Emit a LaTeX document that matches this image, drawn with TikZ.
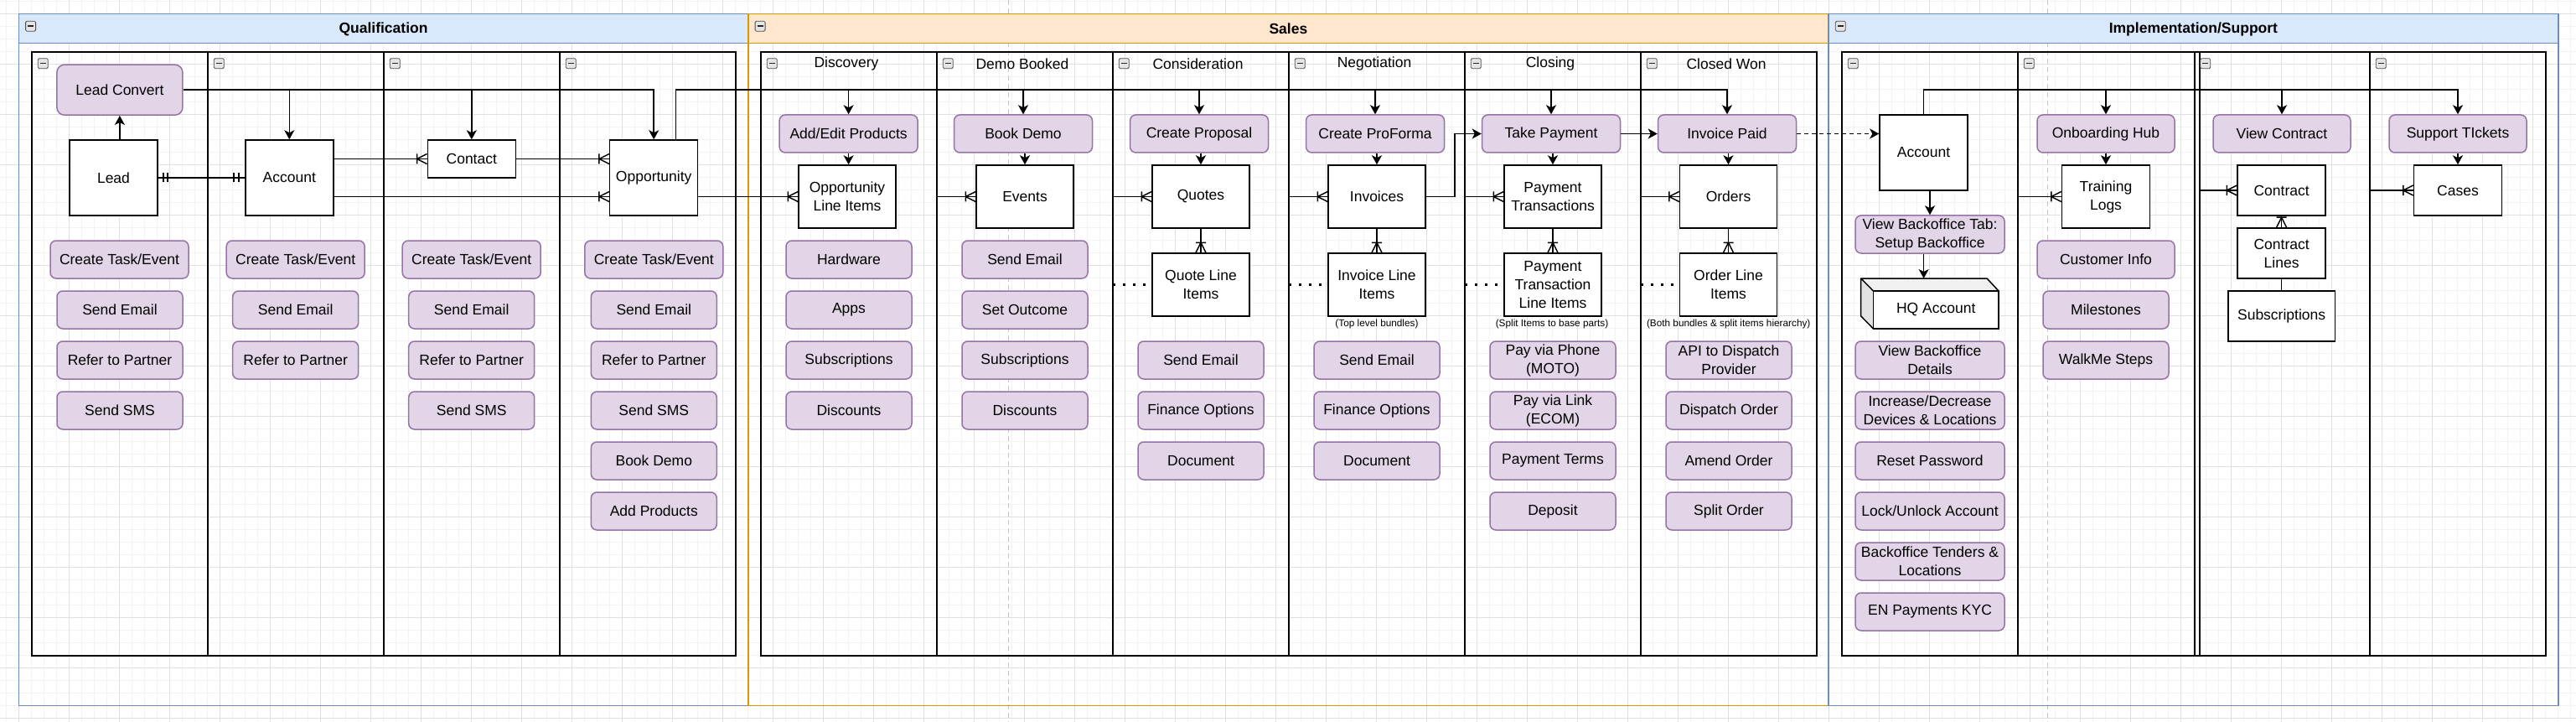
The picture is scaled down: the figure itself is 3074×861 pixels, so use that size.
\documentclass[tikz,border=0pt]{standalone}
\usepackage{fontspec}
\setmainfont{Liberation Sans}
\usetikzlibrary{arrows.meta}
\definecolor{purF}{HTML}{E1D5E7}
\definecolor{purD}{HTML}{9673A6}
\definecolor{bluF}{HTML}{DAE8FC}
\definecolor{bluD}{HTML}{6C8EBF}
\definecolor{orF}{HTML}{FFE6CC}
\definecolor{orD}{HTML}{D79B00}
\definecolor{gmin}{HTML}{F3F3F3}
\definecolor{gmaj}{HTML}{E0E0E0}
\definecolor{pgb}{HTML}{C8C8C8}
\tikzset{
  ln/.style={line width=1.5pt, black},
  arr/.style={ln, -{Stealth[length=11pt, width=12pt, inset=3pt]}},
  darr/.style={arr, dash pattern=on 4.5pt off 4.5pt},
  dotl/.style={line width=2.5pt, dash pattern=on 3pt off 9pt},
  act/.style={draw=purD, fill=purF, line width=1.5pt, rounded corners=7pt, minimum width=#1, minimum height=45pt, inner sep=0pt, align=center},
  act/.default=150pt,
  ent/.style 2 args={draw=black, fill=white, line width=1.5pt, minimum width=#1, minimum height=#2, inner sep=0pt, align=center},
  lanel/.style={draw=black, line width=2pt},
  lbl/.style={inner sep=0pt},
  ttl/.style={inner sep=0pt, font=\bfseries\fontsize{17.5}{22}\selectfont},
  smalltxt/.style={inner sep=0pt, font=\fontsize{11.8}{14}\selectfont},
  cfl/.pic={\draw[ln] (-12,-6) -- (-12,6) (0,-6) -- (-12,0) -- (0,6);},
  cfd/.pic={\draw[ln] (-6,-12) -- (6,-12) (-6,0) -- (0,-12) -- (6,0);},
  mbR/.pic={\draw[ln] (6,-5.5) -- (6,5.5) (11,-5.5) -- (11,5.5);},
  mbL/.pic={\draw[ln] (-7,-5.5) -- (-7,5.5) (-13,-5.5) -- (-13,5.5);},
  colp/.pic={\draw[draw=gray!60!black, fill=gray!20, line width=0.8pt, rounded corners=1.5pt] (-6,-6) rectangle (6,6); \draw[line width=1.6pt, black!85] (-3.5,0) -- (3.5,0);},
}
\begin{document}
\begin{tikzpicture}[x=1pt, y=-1pt, font=\fontsize{17.5}{22}\selectfont]
\useasboundingbox (0,0) rectangle (3074,861);
\fill[white] (0,0) rectangle (3074,861);
% grid
\foreach \k in {-1,...,204} {\draw[gmin, line width=0.8pt] ({22.3+15*\k},0) -- ({22.3+15*\k},861);}
\foreach \k in {-1,...,56} {\draw[gmin, line width=0.8pt] (0,{16.7+15*\k}) -- (3074,{16.7+15*\k});}
\foreach \k in {0,...,51} {\draw[gmaj, line width=1pt] ({22.3+60*\k},0) -- ({22.3+60*\k},861);}
\foreach \k in {0,...,14} {\draw[gmaj, line width=1pt] (0,{16.7+60*\k}) -- (3074,{16.7+60*\k});}
% page breaks
\draw[pgb, line width=1pt, dash pattern=on 6pt off 4pt] (1203.5,0) -- (1203.5,861);
\draw[pgb, line width=1pt, dash pattern=on 6pt off 4pt] (2443.5,0) -- (2443.5,861);
% pools
\draw[bluD, line width=1.5pt, fill=bluF] (22.3,16.7) rectangle (892.8,51.7);
\draw[bluD, line width=1.5pt] (22.3,16.7) rectangle (892.8,841.7);
\draw[orD, line width=1.5pt, fill=orF] (892.8,16.7) rectangle (2182,51.7);
\draw[orD, line width=1.5pt] (892.8,16.7) rectangle (2182,841.7);
\draw[bluD, line width=1.5pt, fill=bluF] (2182,16.7) rectangle (3052.8,51.7);
\draw[bluD, line width=1.5pt] (2182,16.7) rectangle (3052.8,841.7);
\node[ttl] (tq) at (457.5,34.7) {Qualification};
\node[ttl] (ts) at (1537.4,34.7) {Sales};
\node[ttl] (ti) at (2617.4,34.7) {Implementation/Support};
% lanes
\draw[lanel] (38,61.7) rectangle (878,782);
\foreach \x in {248,458,668} {\draw[lanel] (\x,61.7) -- (\x,782);}
\draw[lanel] (908,61.7) rectangle (2168,782);
\foreach \x in {1118,1328,1538,1748,1958} {\draw[lanel] (\x,61.7) -- (\x,782);}
\draw[lanel] (2198,61.7) rectangle (3038,782);
\foreach \x in {2408,2618.5,2625,2828} {\draw[lanel] (\x,61.7) -- (\x,782);}
% collapse icons
\foreach \x in {36.6,907.1,2196.3} {\pic at (\x,31.2) {colp};}
\foreach \x in {51.3,261.3,471.3,681.3,921.3,1131.3,1341.3,1551.3,1761.3,1971.3,2211.3,2421.3,2631.8,2841.3} {\pic at (\x,75.7) {colp};}
% lane titles
\node[lbl] (l1) at (1010,76) {Discovery};
\node[lbl] (l2) at (1220,76) {Demo Booked};
\node[lbl] (l3) at (1429.5,76) {Consideration};
\node[lbl] (l4) at (1640,76) {Negotiation};
\node[lbl] (l5) at (1850,76) {Closing};
\node[lbl] (l6) at (2060,76) {Closed Won};
% ---------- Qualification ----------
\node[act=150pt, minimum height=60pt, rounded corners=9pt] (lc) at (142.9,107.2) {Lead Convert};
\node[ent={105pt}{90pt}] (lead) at (135.5,212) {Lead};
\node[ent={105pt}{90pt}] (acc) at (345.3,212) {Account};
\node[ent={105pt}{45pt}] (con) at (562.8,189.5) {Contact};
\node[ent={105pt}{90pt}] (opp) at (780.2,212) {Opportunity};
\node[act=165pt] (q1a) at (142.5,309.5) {Create Task/Event};
\node[act] (q1b) at (143,369.5) {Send Email};
\node[act] (q1c) at (143,429.5) {Refer to Partner};
\node[act] (q1d) at (143,489.5) {Send SMS};
\node[act=165pt] (q2a) at (352.7,309.5) {Create Task/Event};
\node[act] (q2b) at (352.7,369.5) {Send Email};
\node[act] (q2c) at (352.7,429.5) {Refer to Partner};
\node[act=165pt] (q3a) at (562.7,309.5) {Create Task/Event};
\node[act] (q3b) at (562.7,369.5) {Send Email};
\node[act] (q3c) at (562.7,429.5) {Refer to Partner};
\node[act] (q3d) at (562.7,489.5) {Send SMS};
\node[act=165pt] (q4a) at (780.3,309.5) {Create Task/Event};
\node[act] (q4b) at (780.3,369.5) {Send Email};
\node[act] (q4c) at (780.3,429.5) {Refer to Partner};
\node[act] (q4d) at (780.3,489.5) {Send SMS};
\node[act] (q4e) at (780.3,549.5) {Book Demo};
\node[act] (q4f) at (780.3,609.5) {Add Products};
% ---------- Sales ----------
\node[act=165pt] (aep) at (1012.6,159.5) {Add/Edit Products};
\node[ent={116pt}{75pt}] (oli) at (1011,234.5) {Opportunity\\Line Items};
\node[act] (s1a) at (1013,309.5) {Hardware};
\node[act] (s1b) at (1013,369.5) {Apps};
\node[act] (s1c) at (1013,429.5) {Subscriptions};
\node[act] (s1d) at (1013,489.5) {Discounts};
\node[act=165pt] (bd) at (1221,159.5) {Book Demo};
\node[ent={116pt}{75pt}] (ev) at (1223,234.5) {Events};
\node[act] (s2a) at (1223,309.5) {Send Email};
\node[act] (s2b) at (1223,369.5) {Set Outcome};
\node[act] (s2c) at (1223,429.5) {Subscriptions};
\node[act] (s2d) at (1223,489.5) {Discounts};
\node[act=165pt] (cp) at (1431,159.5) {Create Proposal};
\node[ent={116pt}{75pt}] (quo) at (1433,234.5) {Quotes};
\node[ent={116pt}{75pt}] (qli) at (1433,339.5) {Quote Line\\Items};
\node[act] (s3a) at (1433,429.5) {Send Email};
\node[act] (s3b) at (1433,489.5) {Finance Options};
\node[act] (s3c) at (1433,549.5) {Document};
\node[act=165pt] (pf) at (1641,159.5) {Create ProForma};
\node[ent={116pt}{75pt}] (inv) at (1643,234.5) {Invoices};
\node[ent={116pt}{75pt}] (ili) at (1643,339.5) {Invoice Line\\Items};
\node[smalltxt] (n1) at (1643,386) {(Top level bundles)};
\node[act] (s4a) at (1643,429.5) {Send Email};
\node[act] (s4b) at (1643,489.5) {Finance Options};
\node[act] (s4c) at (1643,549.5) {Document};
\node[act=165pt] (tp) at (1851,159.5) {Take Payment};
\node[ent={116pt}{75pt}] (pt) at (1853,234.5) {Payment\\Transactions};
\node[ent={116pt}{75pt}] (ptli) at (1853,339.5) {Payment\\Transaction\\Line Items};
\node[smalltxt] (n2) at (1852,386) {(Split Items to base parts)};
\node[act] (s5a) at (1853,429.5) {Pay via Phone\\(MOTO)};
\node[act] (s5b) at (1853,489.5) {Pay via Link\\(ECOM)};
\node[act] (s5c) at (1853,549.5) {Payment Terms};
\node[act] (s5d) at (1853,609.5) {Deposit};
\node[act=165pt] (ip) at (2061,159.5) {Invoice Paid};
\node[ent={116pt}{75pt}] (ord) at (2062.5,234.5) {Orders};
\node[ent={116pt}{75pt}] (oli2) at (2062.5,339.5) {Order Line\\Items};
\node[smalltxt] (n3) at (2062.7,386) {(Both bundles \& split items hierarchy)};
\node[act] (s6a) at (2063,429.5) {API to Dispatch\\Provider};
\node[act] (s6b) at (2063,489.5) {Dispatch Order};
\node[act] (s6c) at (2063,549.5) {Amend Order};
\node[act] (s6d) at (2063,609.5) {Split Order};
% ---------- Implementation ----------
\node[ent={105pt}{90pt}] (iacc) at (2295.5,182) {Account};
\node[act=178pt] (vbt) at (2303,279.5) {View Backoffice Tab:\\Setup Backoffice};
\fill[gray!12] (2220.7,332) -- (2371,332) -- (2385,347) -- (2235.5,347) -- cycle;
\fill[gray!22] (2220.7,332) -- (2235.5,347) -- (2235.5,392) -- (2220.7,377) -- cycle;
\node[ent={149.5pt}{45pt}] (hq) at (2310.25,369.5) {HQ Account};
\draw[ln, line join=round] (2235.5,347) -- (2220.7,332) -- (2371,332) -- (2385,347) (2220.7,332) -- (2220.7,377) -- (2235.5,392);
\coordinate (hqt) at (2295.6,332);
\node[act=178pt] (i1a) at (2303,429.5) {View Backoffice\\Details};
\node[act=178pt] (i1b) at (2303,489.5) {Increase/Decrease\\Devices \& Locations};
\node[act=178pt] (i1c) at (2303,549.5) {Reset Password};
\node[act=178pt] (i1d) at (2303,609.5) {Lock/Unlock Account};
\node[act=178pt] (i1e) at (2303,669.5) {Backoffice Tenders \&\\Locations};
\node[act=178pt] (i1f) at (2303,729.5) {EN Payments KYC};
\node[act=164pt] (ob) at (2513,159.5) {Onboarding Hub};
\node[ent={105pt}{75pt}] (tl) at (2513,234.5) {Training\\Logs};
\node[act=164pt] (i2a) at (2513,309.5) {Customer Info};
\node[act] (i2b) at (2513,369.5) {Milestones};
\node[act] (i2c) at (2513,429.5) {WalkMe Steps};
\node[act=164pt] (vc) at (2723,159.5) {View Contract};
\node[ent={105pt}{60pt}] (ct) at (2722.6,227) {Contract};
\node[ent={105pt}{60pt}] (cl) at (2722.6,302) {Contract\\Lines};
\node[ent={127.5pt}{60pt}] (sub) at (2722.6,377) {Subscriptions};
\node[act=164pt] (st) at (2933,159.5) {Support TIckets};
\node[ent={105pt}{60pt}] (cs) at (2933,227) {Cases};
% ---------- connectors: Qualification ----------
\draw[arr] (lead.north -| lc.south) -- (lc.south);
\draw[ln] (lead.east) -- (acc.west);
\pic at (lead.east) {mbR};
\pic at (acc.west) {mbL};
\draw[arr] (lc.east) -| (acc.north);
\draw[arr] (lc.east) -| (con.north);
\draw[arr] (lc.east) -| (opp.north);
\draw[ln] (acc.east |- con.west) -- (con.west);
\pic at (con.west) {cfl};
\draw[ln] (con.east) -- (con.east -| opp.west);
\pic at (con.east -| opp.west) {cfl};
\draw[ln] (acc.east |- oli.west) -- (oli.west -| opp.west);
\pic at (oli.west -| opp.west) {cfl};
\draw[ln] (oli.west -| opp.east) -- (oli.west);
\pic at (oli.west) {cfl};
% ---------- connectors: Sales ----------
\coordinate (bq) at (806.5,107.2);
\foreach \t in {aep,bd,cp,pf,tp,ip} {\draw[arr] (opp.north -| bq) -- (bq) -| (\t.north);}
\draw[arr] (aep.south) -- (aep.south |- oli.north);
\draw[arr] (bd.south -| ev.north) -- (ev.north);
\draw[arr] (cp.south -| quo.north) -- (quo.north);
\draw[arr] (pf.south -| inv.north) -- (inv.north);
\draw[arr] (tp.south -| pt.north) -- (pt.north);
\draw[arr] (ip.south -| ord.north) -- (ord.north);
\coordinate (e1) at (1118,234.5);
\coordinate (e2) at (1328,234.5);
\coordinate (e3) at (1538,234.5);
\coordinate (e4) at (1748,234.5);
\coordinate (e5) at (1958,234.5);
\draw[ln] (e1) -- (ev.west); \pic at (ev.west) {cfl};
\draw[ln] (e2) -- (quo.west); \pic at (quo.west) {cfl};
\draw[ln] (e3) -- (inv.west); \pic at (inv.west) {cfl};
\draw[ln] (e4) -- (pt.west); \pic at (pt.west) {cfl};
\draw[ln] (e5) -- (ord.west); \pic at (ord.west) {cfl};
\draw[ln] (quo.south) -- (qli.north); \pic at (qli.north) {cfd};
\draw[ln] (inv.south) -- (ili.north); \pic at (ili.north) {cfd};
\draw[ln] (pt.south) -- (ptli.north); \pic at (ptli.north) {cfd};
\draw[ln] (ord.south) -- (oli2.north); \pic at (oli2.north) {cfd};
\coordinate (f2) at (1328,339.5);
\coordinate (f3) at (1538,339.5);
\coordinate (f4) at (1748,339.5);
\coordinate (f5) at (1958,339.5);
\draw[dotl] (f2) -- (qli.west);
\draw[dotl] (f3) -- (ili.west);
\draw[dotl] (f4) -- (ptli.west);
\draw[dotl] (f5) -- (oli2.west);
\draw[arr] (inv.east) -- ++(34,0) |- (tp.west);
\draw[arr] (tp.east) -- (ip.west);
\draw[darr] (ip.east) -- (ip.east -| iacc.west);
% ---------- connectors: Implementation ----------
\coordinate (bi) at (2295.5,107.2);
\foreach \t in {ob,vc,st} {\draw[arr] (iacc.north) -- (bi) -| (\t.north);}
\draw[arr] (iacc.south -| vbt.north) -- (vbt.north);
\draw[arr] (vbt.south -| hqt) -- (hqt);
\draw[arr] (ob.south) -- (tl.north);
\coordinate (e6) at (2408,234.5);
\draw[ln] (e6) -- (tl.west); \pic at (tl.west) {cfl};
\coordinate (e7) at (2625,227);
\draw[ln] (e7) -- (ct.west); \pic at (ct.west) {cfl};
\draw[ln] (ct.south) -- (cl.north); \pic at (cl.north) {cfd};
\draw[ln] (cl.south) -- (sub.north);
\draw[arr] (st.south) -- (cs.north);
\coordinate (e8) at (2828,227);
\draw[ln] (e8) -- (cs.west); \pic at (cs.west) {cfl};
\end{tikzpicture}
\end{document}
